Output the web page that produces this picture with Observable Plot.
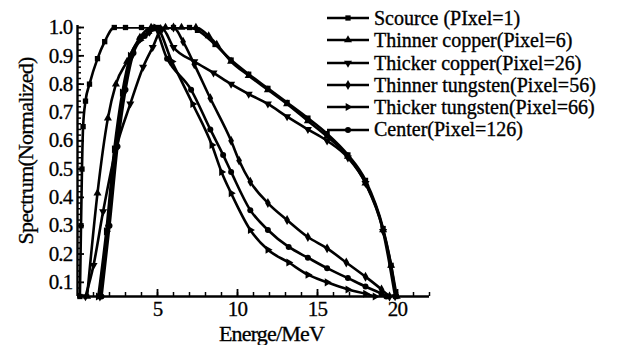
<!DOCTYPE html>
<html><head><meta charset="utf-8">
<script src="https://cdn.jsdelivr.net/npm/d3@7"></script>
<script src="https://cdn.jsdelivr.net/npm/@observablehq/plot@0.6"></script>
<style>
body{margin:0;background:#fff;}
#wrap{position:relative;width:628px;height:345px;font-family:"Liberation Serif","Times New Roman",Times,"DejaVu Serif",serif;}
#legend{position:absolute;left:325px;top:7px;}
.row{display:flex;align-items:center;height:22.3px;font-size:20px;line-height:22.3px;color:#000;white-space:nowrap;letter-spacing:0px;-webkit-text-stroke:0.35px #000;}
.row svg{margin-right:3px;flex:none;}
#chart svg text{stroke:#000;stroke-width:0.3px;}
</style></head><body><div id="wrap"><div id="chart"></div><div id="legend"></div></div>
<script>
// Series names (legend order)
const seriesNames = ["Scource (PIxel=1)", "Thinner copper(Pixel=6)", "Thicker copper(Pixel=26)", "Thinner tungsten(Pixel=56)", "Thicker tungsten(Pixel=66)", "Center(Pixel=126)"];
const seriesSymbols = ["square", "triangle", "triangle", "diamond", "triangle", "circle"];
const seriesRotate = [0, 0, 180, 0, 90, 0];

// Energy (MeV) and normalized spectrum values
const sourceE = [0.15, 0.22, 0.28, 0.35, 0.5, 0.75, 1.25, 1.7, 2.3, 3.0, 4.0, 5.0, 6.0, 7.0, 7.5, 8.6, 9.6, 10.7, 11.9, 13.1, 14.4, 15.6, 16.9, 18.0, 19.1, 19.6, 19.9];
const sourceS = [0.05, 0.3, 0.5, 0.65, 0.74, 0.8, 0.89, 0.95, 1.0, 1.0, 1.0, 1.0, 1.0, 1.0, 0.99, 0.94, 0.885, 0.835, 0.785, 0.735, 0.68, 0.625, 0.55, 0.46, 0.29, 0.16, 0.05];

const thinCuE = [0.6, 1.25, 1.9, 2.4, 3.1, 3.9, 4.6, 5.5, 6.5, 7.4, 8.2, 8.7, 9.6, 10.7, 11.9, 13.1, 14.4, 15.6, 16.9, 18.0, 19.1, 19.6, 19.95];
const thinCuS = [0.05, 0.415, 0.68, 0.8, 0.88, 0.965, 1.0, 1.0, 1.0, 1.0, 0.97, 0.94, 0.88, 0.83, 0.78, 0.73, 0.67, 0.615, 0.545, 0.45, 0.285, 0.16, 0.05];

const thickCuE = [0.5, 1.0, 1.6, 2.4, 3.3, 4.1, 4.7, 5.3, 6.0, 7.3, 8.5, 9.6, 10.7, 11.9, 13.1, 14.4, 15.6, 16.9, 18.0, 19.1, 19.85];
const thickCuS = [0.05, 0.16, 0.35, 0.57, 0.73, 0.86, 0.93, 0.995, 0.93, 0.88, 0.84, 0.80, 0.765, 0.73, 0.685, 0.64, 0.60, 0.54, 0.45, 0.28, 0.05];

const thinWE = [1.4, 1.9, 2.4, 2.9, 3.4, 3.9, 4.5, 5.2, 6.0, 6.6, 7.3, 8.3, 9.6, 10.1, 10.8, 11.9, 13.1, 14.4, 15.6, 16.8, 18.0, 19.0, 19.5];
const thinWS = [0.05, 0.3, 0.58, 0.77, 0.9, 0.96, 0.985, 0.995, 1.0, 0.95, 0.87, 0.75, 0.60, 0.53, 0.455, 0.38, 0.32, 0.26, 0.22, 0.17, 0.12, 0.075, 0.05];

const thickWE = [1.3, 1.8, 2.3, 2.8, 3.3, 3.9, 4.4, 4.9, 5.9, 7.2, 8.4, 9.0, 9.6, 10.8, 11.9, 13.2, 14.4, 15.6, 16.9, 18.0, 18.6];
const thickWS = [0.05, 0.28, 0.57, 0.77, 0.9, 0.955, 0.98, 1.0, 0.88, 0.73, 0.585, 0.49, 0.415, 0.285, 0.215, 0.17, 0.127, 0.10, 0.075, 0.06, 0.05];

const centerE = [1.5, 2.0, 2.5, 3.0, 3.5, 4.2, 4.75, 5.6, 7.1, 8.3, 9.1, 9.6, 10.8, 11.9, 13.2, 14.4, 15.6, 16.9, 18.0, 19.0, 19.3];
const centerS = [0.05, 0.3, 0.58, 0.78, 0.91, 0.97, 1.0, 0.89, 0.78, 0.64, 0.55, 0.49, 0.355, 0.285, 0.225, 0.187, 0.15, 0.115, 0.085, 0.06, 0.05];

// Axis ticks
const xTickLabels = [5, 10, 15, 20];
const xMinorTicks = d3.range(1, 23, 1);
const yTickLabels = [0.1, 0.2, 0.3, 0.4, 0.5, 0.6, 0.7, 0.8, 0.9, 1.0];
const yMinorTicks = d3.range(6, 101, 2).map(v => v / 100);

const seriesE = [sourceE, thinCuE, thickCuE, thinWE, thickWE, centerE];
const seriesS = [sourceS, thinCuS, thickCuS, thinWS, thickWS, centerS];

const rows = [];
seriesNames.forEach((name, i) => {
  seriesE[i].forEach((e, j) => rows.push({series: name, idx: i, E: e, S: seriesS[i][j]}));
});

const W = 628, H = 345;
const mL = 77, mR = 199, mT = 27, mB = 49;
const frameW = W - mL - mR, frameH = H - mT - mB;
const FONT = '"Liberation Serif", "Times New Roman", Times, "DejaVu Serif", serif';

const marks = [
  Plot.line(rows, {x: "E", y: "S", z: "series", curve: "monotone-x", stroke: "#000", strokeWidth: 2.6, clip: true}),
  ...seriesNames.map((name, i) => Plot.dot(rows.filter(d => d.idx === i), {
    x: "E", y: "S", symbol: seriesSymbols[i], rotate: seriesRotate[i], r: 3, fill: "#000", stroke: "none"
  })),
  Plot.tickX(xMinorTicks, {x: d => d, insetTop: frameH - 4, stroke: "#000", strokeWidth: 1.5}),
  Plot.tickX(xTickLabels, {x: d => d, insetTop: frameH - 7, stroke: "#000", strokeWidth: 1.8}),
  Plot.tickY(yMinorTicks, {y: d => d, insetRight: frameW - 4, stroke: "#000", strokeWidth: 1.5}),
  Plot.tickY(yTickLabels, {y: d => d, insetRight: frameW - 7, stroke: "#000", strokeWidth: 1.8}),
  Plot.ruleX([0], {stroke: "#000", strokeWidth: 2.4, y1: 0.05, y2: 1.007}),
  Plot.ruleY([0.05], {stroke: "#000", strokeWidth: 2.4}),
  Plot.axisX({ticks: xTickLabels, tickSize: 0, tickPadding: 5, label: null, fontSize: 21}),
  Plot.axisY({ticks: yTickLabels, tickSize: 0, tickPadding: 5, tickFormat: d3.format(".1f"), label: null, fontSize: 21}),
  Plot.text(["Energe/MeV"], {frameAnchor: "bottom", dx: 18, dy: 44, fontSize: 22, fill: "#000"}),
  Plot.text(["Spectrum(Normalized)"], {frameAnchor: "left", textAnchor: "middle", rotate: -90, dx: -52, dy: -11, fontSize: 22, fill: "#000"})
];

const chart = Plot.plot({
  width: W, height: H,
  marginLeft: mL, marginRight: mR, marginTop: mT, marginBottom: mB,
  x: {domain: [0, 22]},
  y: {domain: [0.05, 1.0]},
  style: {fontFamily: FONT, fontSize: "21px", color: "#000", background: "#fff", overflow: "visible", letterSpacing: "-0.8px"},
  marks
});
document.getElementById("chart").appendChild(chart);

// Legend
const legend = d3.select("#legend");
const symMap = {square: d3.symbolSquare, triangle: d3.symbolTriangle, diamond: d3.symbolDiamond, circle: d3.symbolCircle};
seriesNames.forEach((name, i) => {
  const row = legend.append("div").attr("class", "row");
  const svg = row.append("svg").attr("width", 46).attr("height", 22);
  svg.append("line").attr("x1", 2).attr("x2", 44).attr("y1", 11).attr("y2", 11).attr("stroke", "#000").attr("stroke-width", 2.4);
  svg.append("path").attr("d", d3.symbol(symMap[seriesSymbols[i]], 28)()).attr("transform", `translate(23,11) rotate(${seriesRotate[i]})`).attr("fill", "#000");
  row.append("span").text(name);
});
</script>
</body></html>
